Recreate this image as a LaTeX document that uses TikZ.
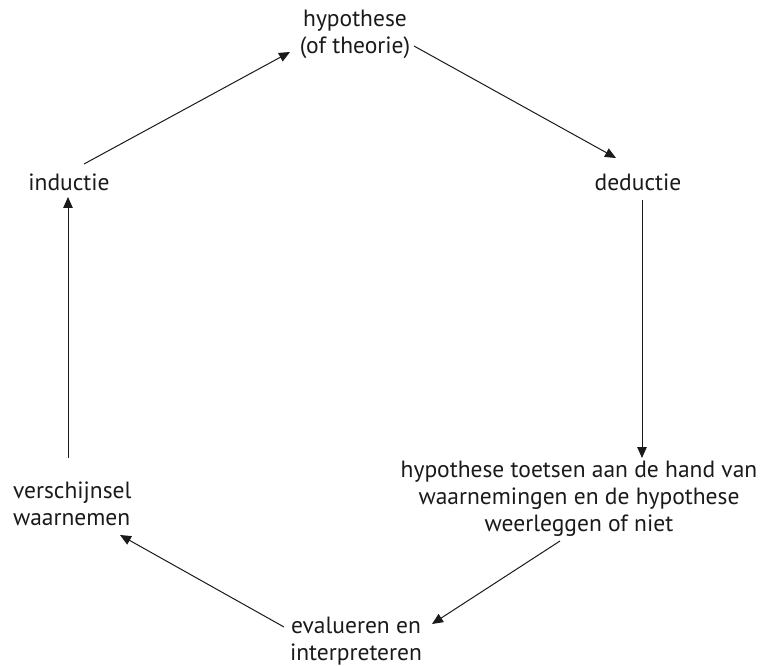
\documentclass[tikz,border=0pt]{standalone}
\usepackage{fontspec}
\setmainfont{PT Sans}
\usetikzlibrary{arrows.meta,calc}
\definecolor{ink}{HTML}{1A1A1A}
\begin{document}
\begin{tikzpicture}[x=1pt,y=-1pt,
  lab/.style={inner sep=0pt,outer sep=0pt,text=ink,font=\fontsize{23.5}{27}\selectfont},
  arr/.style={draw=ink,line width=1pt,-{Triangle[length=11pt,width=9.5pt]}}]
\useasboundingbox (0,0) rectangle (769,666);
% base anchor of a multi-line node = baseline of its last line
\node[lab,align=center,anchor=base] (hyp) at (355,54) {hypothese\\(of theorie)};
\node[lab,anchor=base] (ded) at (638,190) {deductie};
\node[lab,anchor=base] (ind) at (69,190) {inductie};
\node[lab,align=center,anchor=base] (toe) at (579,531) {hypothese toetsen aan de hand van\\waarnemingen en de hypothese\\weerleggen of niet};
\node[lab,align=left,anchor=base west] (ver) at (13,525) {verschijnsel\\waarnemen};
\node[lab,align=center,anchor=base] (eva) at (356,660) {evalueren en\\interpreteren};
\draw[arr] ([shift={(15,-26)}]ind.base) -- ([shift={(-65,-2)}]hyp.base);
\draw[arr] ([shift={(59,-8)}]hyp.base) -- ([shift={(-22,-32)}]ded.base);
\draw[arr] ([shift={(4,10)}]ded.base) -- ([shift={(63,-73)}]toe.base);
\draw[arr] ([shift={(-19,10)}]toe.base) -- ([shift={(76,-36)}]eva.base);
\draw[arr] ([shift={(-72,-33)}]eva.base) -- ([shift={(107,10)}]ver.base west);
\draw[arr] ([shift={(55,-67)}]ver.base west) -- ([shift={(-1,7)}]ind.base);
\end{tikzpicture}
\end{document}
